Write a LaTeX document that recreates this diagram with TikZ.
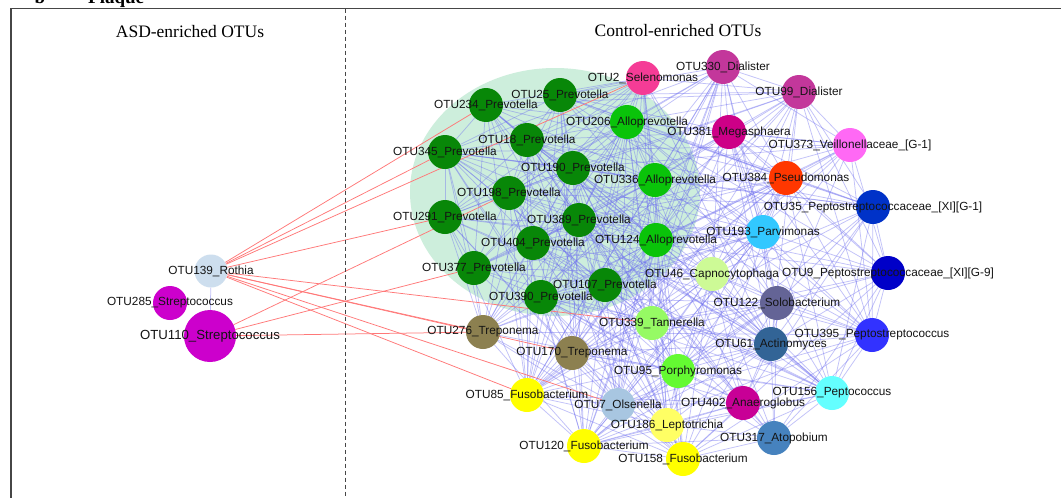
\documentclass[tikz,border=0pt]{standalone}
\usepackage{fontspec}
\setmainfont{Liberation Serif}
\newfontfamily\arialf{Liberation Sans}
\pgfdeclarelayer{blob}
\pgfdeclarelayer{edges}
\pgfdeclarelayer{labels}
\pgfsetlayers{blob,edges,main,labels}
\definecolor{cPrev}{RGB}{8,135,8}
\definecolor{cAllo}{RGB}{10,195,10}
\definecolor{cSel}{RGB}{245,60,150}
\definecolor{cDial}{RGB}{195,55,155}
\definecolor{cMega}{RGB}{205,0,135}
\definecolor{cVeil}{RGB}{255,105,245}
\definecolor{cPseu}{RGB}{255,55,0}
\definecolor{cPepA}{RGB}{0,50,200}
\definecolor{cPepB}{RGB}{0,0,200}
\definecolor{cParv}{RGB}{50,200,255}
\definecolor{cCapn}{RGB}{205,250,150}
\definecolor{cSolo}{RGB}{100,100,150}
\definecolor{cPeps}{RGB}{50,50,255}
\definecolor{cActi}{RGB}{50,100,150}
\definecolor{cTann}{RGB}{150,250,100}
\definecolor{cTrep}{RGB}{140,128,80}
\definecolor{cPorp}{RGB}{100,250,50}
\definecolor{cFuso}{RGB}{255,255,0}
\definecolor{cOlse}{RGB}{168,198,225}
\definecolor{cAnae}{RGB}{200,0,150}
\definecolor{cPept}{RGB}{100,255,255}
\definecolor{cLept}{RGB}{255,255,100}
\definecolor{cAtop}{RGB}{70,130,190}
\definecolor{cRoth}{RGB}{205,222,238}
\definecolor{cStrep}{RGB}{204,0,204}
\definecolor{cBlob}{RGB}{205,238,220}
\definecolor{edgeblue}{RGB}{110,110,240}
\definecolor{edgered}{RGB}{255,120,120}
\definecolor{framegray}{RGB}{70,70,70}
\def\leftnodes{%
rothia/211/271/16.5/cRoth/OTU139\_Rothia/11.8,%
s285/170/303/17/cStrep/OTU285\_Streptococcus/11.8,%
s110/210/336/26/cStrep/OTU110\_Streptococcus/13.2}
\def\rightnodes{%
p25/560/95/17/cPrev/OTU25\_Prevotella/11.8,%
p234/486/105/17/cPrev/OTU234\_Prevotella/11.8,%
p18/527/140/17/cPrev/OTU18\_Prevotella/11.8,%
p345/445/152/17/cPrev/OTU345\_Prevotella/11.8,%
p190/573/168/17/cPrev/OTU190\_Prevotella/11.8,%
p198/509/193/17/cPrev/OTU198\_Prevotella/11.8,%
p291/445/217/17/cPrev/OTU291\_Prevotella/11.8,%
p389/579/220/17/cPrev/OTU389\_Prevotella/11.8,%
p404/533/243/17/cPrev/OTU404\_Prevotella/11.8,%
p377/474/268/17/cPrev/OTU377\_Prevotella/11.8,%
p107/605/285/17/cPrev/OTU107\_Prevotella/11.8,%
p390/541/297/17/cPrev/OTU390\_Prevotella/11.8,%
a206/627/122/17/cAllo/OTU206\_Alloprevotella/11.8,%
a336/655/180/17/cAllo/OTU336\_Alloprevotella/11.8,%
a124/656/240/17/cAllo/OTU124\_Alloprevotella/11.8,%
s2/643/78/17/cSel/OTU2\_Selenomonas/11.8,%
d330/723/67/17/cDial/OTU330\_Dialister/11.8,%
d99/799/92/17/cDial/OTU99\_Dialister/11.8,%
m381/729/132/17/cMega/OTU381\_Megasphaera/11.8,%
v373/850/145/17/cVeil/OTU373\_Veillonellaceae\_[G-1]/11.8,%
ps384/786/178/17/cPseu/OTU384\_Pseudomonas/11.8,%
x35/873/207/17/cPepA/OTU35\_Peptostreptococcaceae\_[XI][G-1]/11.8,%
pv193/763/232/17/cParv/OTU193\_Parvimonas/11.8,%
x9/888/273/17/cPepB/OTU9\_Peptostreptococcaceae\_[XI][G-9]/11.8,%
c46/712/274/17/cCapn/OTU46\_Capnocytophaga/11.8,%
so122/777/303/17/cSolo/OTU122\_Solobacterium/11.8,%
pt395/872/335/17/cPeps/OTU395\_Peptostreptococcus/11.8,%
ac61/771/344/17/cActi/OTU61\_Actinomyces/11.8,%
t339/652/323/17/cTann/OTU339\_Tannerella/11.8,%
tr276/483/332/17/cTrep/OTU276\_Treponema/11.8,%
tr170/572/353/17/cTrep/OTU170\_Treponema/11.8,%
po95/678/371/17/cPorp/OTU95\_Porphyromonas/11.8,%
f85/527/395/17/cFuso/OTU85\_Fusobacterium/11.8,%
o7/618/405/17/cOlse/OTU7\_Olsenella/11.8,%
an402/743/403/17/cAnae/OTU402\_Anaeroglobus/11.8,%
pc156/832/393/17/cPept/OTU156\_Peptococcus/11.8,%
l186/667/425/17/cLept/OTU186\_Leptotrichia/11.8,%
at317/774/438/17/cAtop/OTU317\_Atopobium/11.8,%
f120/584/446/17/cFuso/OTU120\_Fusobacterium/11.8,%
f158/683/459/17/cFuso/OTU158\_Fusobacterium/11.8}
\newcommand\placecircles[1]{%
  \foreach \n/\x/\y/\r/\c/\t/\f in #1 {%
    \node[otunode, fill=\c, minimum size={2*\r pt}] (\n) at (\x,\y) {};
  }}
\newcommand\placelabels[1]{%
  \foreach \n/\x/\y/\r/\c/\t/\f in #1 {%
    \node[otulabel, font=\arialf\fontsize{\f}{\f}\selectfont] (L\n) at (\n) {\t};
  }}
\begin{document}
\begin{tikzpicture}[x=1pt,y=-1pt,
  otunode/.style={circle, inner sep=0pt, draw=none},
  otulabel/.style={inner sep=0pt, text=black!92},
  blueedge/.style={draw=edgeblue, line width=0.75pt, opacity=0.42},
  rededge/.style={draw=edgered, line width=0.75pt},
  framestyle/.style={draw=framegray, line width=1.3pt},
  divider/.style={draw=framegray, line width=1pt, dash pattern=on 4pt off 3pt},
  titlestyle/.style={font=\fontsize{17.5}{20}\selectfont, inner sep=0pt, anchor=base},
  panelstyle/.style={font=\bfseries\fontsize{19}{22}\selectfont, inner sep=0pt}]
\useasboundingbox (0,0) rectangle (1061,498);
% white page and cluster background
\begin{pgfonlayer}{blob}
\fill[white] (0,0) rectangle (1061,498);
\fill[cBlob] (555,192) ellipse [x radius=145pt, y radius=124pt];
\end{pgfonlayer}
% panel heading (cut by the top edge, as in the source)
\node[panelstyle, anchor=base] (panelb) at (40,3.5) {b};
\node[panelstyle, anchor=base west] (plaque) at (88,3.5) {Plaque};
% frame
\draw[framestyle] (11,498) -- (11,8.5) -- (1061,8.5);
\draw[divider] (345.7,8.5) -- (345.7,498);
\node[titlestyle] (asd) at (190,37.5) {ASD-enriched OTUs};
\node[titlestyle] (ctrl) at (678,36) {Control-enriched OTUs};
% nodes
\placecircles{\leftnodes}
\placecircles{\rightnodes}
% edges
\begin{pgfonlayer}{edges}
\draw[blueedge] (rothia) -- (s110);
\pgfmathsetseed{7}
\foreach \a/\xa/\ya/\ra/\ca/\ta/\fa [count=\i] in \rightnodes {
  \foreach \b/\xb/\yb/\rb/\cb/\tb/\fb [count=\j] in \rightnodes {
    \ifnum\j>\i
      \pgfmathsetmacro\dd{veclen(\xb-\xa,\yb-\ya)}
      \pgfmathsetmacro\rr{rnd}
      \pgfmathtruncatemacro\keep{((\dd<170)&&(\rr<0.8)) || ((\dd<300)&&(\rr<0.5)) || (\rr<0.22)}
      \ifnum\keep=1 \draw[blueedge] (\a) -- (\b); \fi
    \fi
  }
}
\foreach \b in {p234,p345,s2,p291,t339,tr276,tr170,f85,o7} {
  \draw[rededge] (rothia) -- (\b);
}
\foreach \b in {p198,p377,tr276} {
  \draw[rededge] (s110) -- (\b);
}
\end{pgfonlayer}
% labels
\begin{pgfonlayer}{labels}
\placelabels{\leftnodes}
\placelabels{\rightnodes}
\end{pgfonlayer}
\end{tikzpicture}
\end{document}
